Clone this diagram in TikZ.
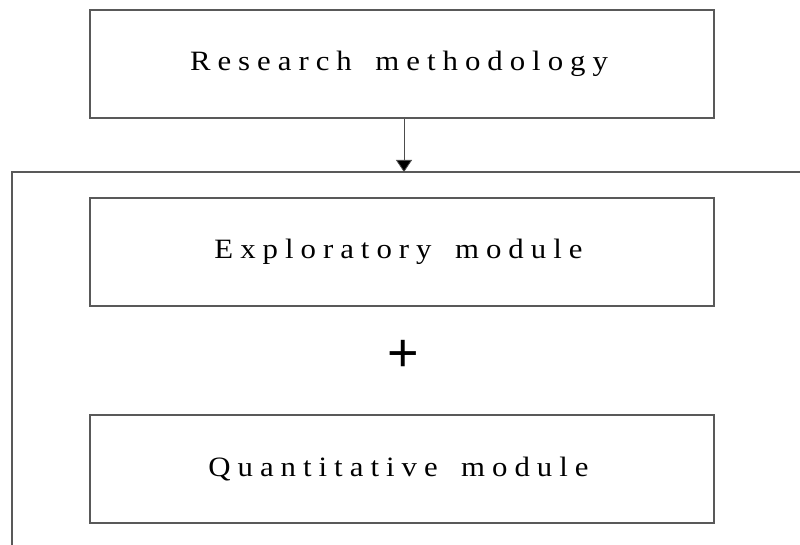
\documentclass[tikz,border=0pt]{standalone}
\usepackage{fontspec}
\setmainfont{Liberation Serif}
\newfontfamily\spaced[LetterSpace=25,WordSpace=1.6,FakeStretch=1.1]{Liberation Serif}
\newfontfamily\plusfont{Liberation Sans}
\usetikzlibrary{arrows.meta}
\begin{document}
\begin{tikzpicture}[x=1pt,y=-1pt,
  line width=1.2pt,
  boxstyle/.style={draw=black!65, minimum width=624pt, minimum height=108pt, inner sep=0pt, font=\spaced\fontsize{28}{32}\selectfont, text=black},
  linestyle/.style={draw=black!65}]
\useasboundingbox (0,0) rectangle (800,545);
\node[boxstyle] (rm) at (402,64) {\hspace*{-6pt}Research methodology};
\node[boxstyle] (em) at (402,252) {\hspace*{-7pt}Exploratory module};
\node[boxstyle] (qm) at (402,469) {\hspace*{-7pt}Quantitative module};
\node[font=\plusfont\fontsize{54}{54}\selectfont, inner sep=0pt] (plus) at (403,356) {+};
\coordinate (tl) at (12,172);
\coordinate (tr) at (800,172);
\coordinate (bl) at (12,545);
\coordinate (hit) at (404,172);
\draw[linestyle] (tr) -- (tl) -- (bl);
\draw[line width=0.8pt, black!70, -{Triangle[length=12pt,width=16pt,fill=black]}] (rm.south -| hit) -- (hit);
\end{tikzpicture}
\end{document}
